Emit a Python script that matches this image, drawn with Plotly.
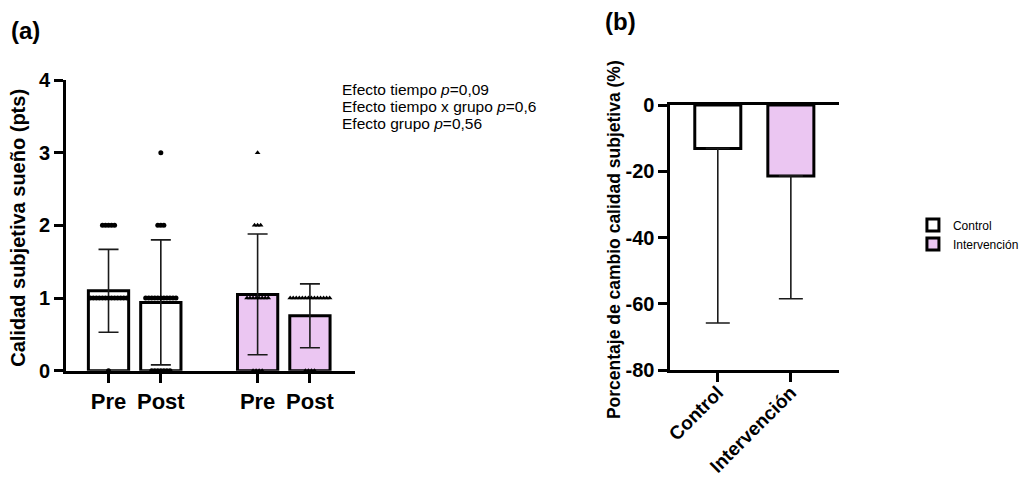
import plotly.graph_objects as go

# ---------------- data ----------------
# Panel (a): subjective sleep quality (pts)
groups_a = ["Control", "Control", "Intervención", "Intervención"]
time_labels = ["Pre", "Post", "Pre", "Post"]
means_a = [1.10, 0.94, 1.05, 0.755]
sd_a = [0.57, 0.86, 0.83, 0.44]

score_levels = [0, 1, 2, 3]
pre_control_counts = [1, 13, 5, 0]
post_control_counts = [7, 11, 3, 1]
pre_int_counts = [4, 8, 3, 1]
post_int_counts = [4, 14, 0, 0]

# Panel (b): % change in subjective quality
categories_b = ["Control", "Intervención"]
means_b = [-13.1, -21.4]
sd_b = [52.7, 37.1]

effect_lines = [
    "Efecto tiempo <i>p</i>=0,09",
    "Efecto tiempo x grupo <i>p</i>=0,6",
    "Efecto grupo <i>p</i>=0,56",
]

# ---------------- styles ----------------
PINK = "#EBC6F2"
FONT = "Arial, Liberation Sans, sans-serif"
fills_a = ["white", "white", PINK, PINK]
symbols_a = ["circle", "circle", "triangle-up", "triangle-up"]
pos_a = [0, 1, 2.85, 3.85]  # layout positions of the 4 bars
counts_a = [pre_control_counts, post_control_counts, pre_int_counts, post_int_counts]

fig = go.Figure()

# bars panel (a)
for i in range(4):
    fig.add_trace(go.Bar(
        x=[pos_a[i]], y=[means_a[i]], width=0.77,
        marker=dict(color=fills_a[i], line=dict(color="black", width=3)),
        error_y=dict(type="data", array=[sd_a[i]], symmetric=True,
                     color="#1a1a1a", thickness=1.6, width=10),
        showlegend=False, xaxis="x", yaxis="y", hoverinfo="skip",
    ))

# individual points (beeswarm rows)
spacing = 0.058
for i in range(4):
    xs, ys = [], []
    for lvl, n in zip(score_levels, counts_a[i]):
        for k in range(n):
            xs.append(pos_a[i] + (k - (n - 1) / 2) * spacing)
            ys.append(lvl)
    fig.add_trace(go.Scatter(
        x=xs, y=ys, mode="markers",
        marker=dict(symbol=symbols_a[i], size=5, color="black"),
        showlegend=False, xaxis="x", yaxis="y", hoverinfo="skip",
        cliponaxis=False,
    ))

# bars panel (b)
fills_b = ["white", PINK]
for j in range(2):
    fig.add_trace(go.Bar(
        x=[j], y=[means_b[j]], width=0.63, name=categories_b[j],
        marker=dict(color=fills_b[j], line=dict(color="black", width=3)),
        error_y=dict(type="data", symmetric=False, array=[0], arrayminus=[sd_b[j]],
                     color="#1a1a1a", thickness=1.6, width=12),
        xaxis="x2", yaxis="y2", hoverinfo="skip",
    ))

axis_common = dict(showgrid=False, zeroline=False, showline=True, linecolor="black",
                   linewidth=3, ticks="outside", ticklen=9, tickwidth=3, tickcolor="black",
                   automargin=False)

fig.update_layout(
    template="none",
    width=1024, height=484, autosize=False,
    margin=dict(l=0, r=0, t=0, b=0, pad=0),
    paper_bgcolor="white", plot_bgcolor="white",
    barmode="overlay",
    font=dict(family=FONT, color="black"),
    xaxis=dict(domain=[67/1024, 360/1024], range=[-0.81, 4.72],
               tickvals=pos_a, ticktext=["<b>%s</b>" % t for t in time_labels],
               tickfont=dict(size=22, family=FONT), anchor="y", **axis_common),
    yaxis=dict(domain=[1-370.7/484, 1-80/484], range=[0, 4], tickvals=[0, 1, 2, 3, 4],
               ticktext=["<b>%d</b>" % v for v in [0, 1, 2, 3, 4]],
               tickfont=dict(size=20, family=FONT), anchor="x", **axis_common),
    xaxis2=dict(domain=[679/1024, 850/1024], range=[-0.649, 1.662],
                tickvals=[0, 1], ticktext=["<b>%s</b>" % c for c in categories_b],
                tickangle=-45, tickfont=dict(size=19, family=FONT), anchor="y2",
                ticklabelstandoff=-8, mirror=True, **axis_common),
    yaxis2=dict(domain=[1-370/484, 1-105/484], range=[-80, 0],
                tickvals=[0, -20, -40, -60, -80],
                ticktext=["<b>%d</b>" % v for v in [0, -20, -40, -60, -80]],
                tickfont=dict(size=20, family=FONT), anchor="x2", **axis_common),
    legend=dict(x=0.903, y=0.565, xanchor="left", yanchor="top",
                font=dict(size=12, family=FONT), tracegroupgap=0,
                bgcolor="rgba(0,0,0,0)"),
)

# axis titles and panel labels
fig.add_annotation(text="<b>Calidad subjetiva sueño (pts)</b>", textangle=-90,
                   x=18/1024, y=1-228/484, xref="paper", yref="paper",
                   xanchor="center", yanchor="middle",
                   showarrow=False, font=dict(size=20, family=FONT))
fig.add_annotation(text="<b>Porcentaje de cambio calidad subjetiva (%)</b>", textangle=-90,
                   x=622/1024, y=1-240/484, xref="paper", yref="paper",
                   xanchor="center", yanchor="middle",
                   showarrow=False, font=dict(size=17.5, family=FONT))
fig.add_annotation(text="<b>(a)</b>", x=9/1024, y=1-30/484, xref="paper", yref="paper",
                   xanchor="left", yanchor="middle", showarrow=False,
                   font=dict(size=24, family=FONT))
fig.add_annotation(text="<b>(b)</b>", x=611/1024, y=1-22/484, xref="paper", yref="paper",
                   xanchor="left", yanchor="middle", showarrow=False,
                   font=dict(size=24, family=FONT))
for k, line in enumerate(effect_lines):
    fig.add_annotation(text=line, x=344/1024, y=1-(89+17*k)/484, xref="paper", yref="paper",
                       xanchor="left", yanchor="middle", showarrow=False,
                       font=dict(size=15.5, family=FONT))

fig.write_html("out.html")
